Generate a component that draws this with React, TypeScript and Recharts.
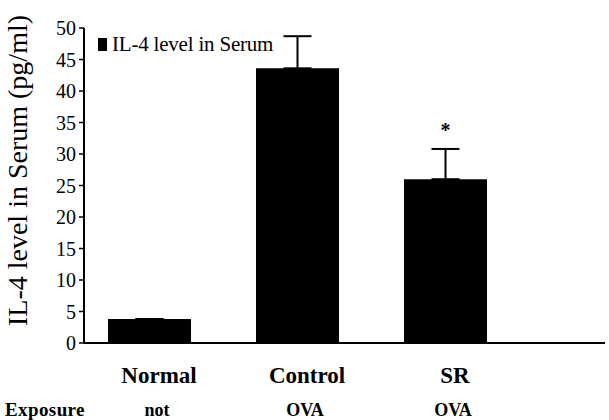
import { BarChart, Bar, XAxis, YAxis, ErrorBar, LabelList } from "recharts";

const groups = ["Normal", "Control", "SR"];
const exposure = ["not", "OVA", "OVA"];
const il4 = [3.8, 43.6, 26.0];
const il4Err = [0, 5.1, 4.8];
const marks = ["", "", "*"];
const yTicks = [0, 5, 10, 15, 20, 25, 30, 35, 40, 45, 50];
const seriesName = "IL-4 level in Serum";

const rows = groups.map((g, i) => ({
  name: g,
  exposure: exposure[i],
  value: il4[i],
  err: [0, il4Err[i]],
  mark: marks[i],
}));

const serif = "'Liberation Serif', 'Times New Roman', serif";

function GroupTick(props: any) {
  const { x, y, payload, index } = props;
  return (
    <g>
      <text x={x + 10} y={y + 32} textAnchor="middle" fontFamily={serif} fontWeight="bold" fontSize={23} fill="#000">
        {payload.value}
      </text>
      <text x={x + 8} y={y + 65} textAnchor="middle" fontFamily={serif} fontWeight="bold" fontSize={18} fill="#000">
        {rows[index]?.exposure}
      </text>
    </g>
  );
}

function YLabel(props: any) {
  const vb = props.viewBox ?? { x: 0, y: 0, height: 0 };
  const cx = 27;
  const cy = vb.y + vb.height / 2 - 15;
  return (
    <text x={cx} y={cy} transform={`rotate(-90, ${cx}, ${cy})`} textAnchor="middle" fontFamily={serif} fontSize={28} fill="#000">
      IL-4 level in Serum (pg/ml)
    </text>
  );
}

export default function App() {
  return (
    <div style={{ position: "absolute", left: 0, top: 0, width: 609, height: 420, background: "#fff" }}>
      <BarChart width={609} height={420} data={rows} margin={{ top: 28, right: 4, bottom: 47, left: 0 }} barSize={83}>
        <XAxis
          dataKey="name"
          height={30}
          padding={{ left: -9, right: 86 }}
          axisLine={{ stroke: "#000", strokeWidth: 2 }}
          tickLine={false}
          tick={<GroupTick />}
          interval={0}
        />
        <YAxis
          width={84}
          domain={[0, 50]}
          ticks={yTicks}
          interval={0}
          axisLine={{ stroke: "#000", strokeWidth: 2 }}
          tickLine={{ stroke: "#000", strokeWidth: 1.5 }}
          tickSize={5}
          tickMargin={3}
          tick={{ fill: "#000", fontSize: 20, fontFamily: serif }}
          label={<YLabel />}
        />
        <Bar dataKey="value" name={seriesName} fill="#000" isAnimationActive={false}>
          <ErrorBar dataKey="err" width={14} stroke="#000" strokeWidth={2} direction="y" />
          <LabelList dataKey="mark" position="top" offset={42} fill="#000" fontSize={20} fontWeight="bold" fontFamily={serif} />
        </Bar>
      </BarChart>
      <div style={{ position: "absolute", left: 98, top: 32, display: "flex", alignItems: "center", fontFamily: serif, fontSize: 21, color: "#000" }}>
        <span style={{ display: "inline-block", width: 9, height: 13, background: "#000", marginRight: 5 }} />
        <span style={{ letterSpacing: -0.2 }}>{seriesName}</span>
      </div>
      <div style={{ position: "absolute", left: 5, top: 399, fontFamily: serif, fontWeight: "bold", fontSize: 19, letterSpacing: 0.4, color: "#000" }}>
        Exposure
      </div>
    </div>
  );
}
